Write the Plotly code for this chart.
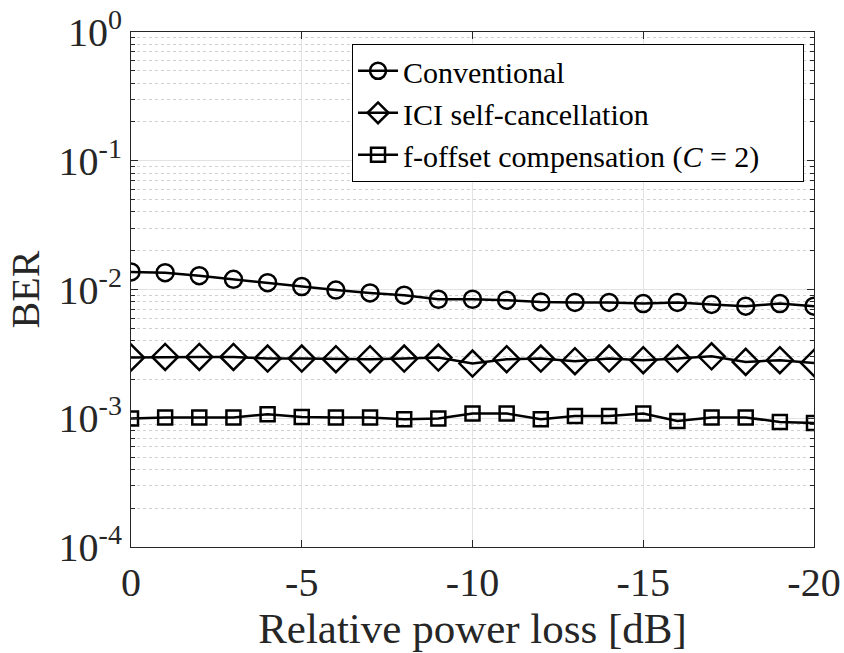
import plotly.graph_objects as go

loss_db = list(range(0, -21, -1))

ber_conventional = [1.37e-2, 1.35e-2, 1.28e-2, 1.20e-2, 1.13e-2, 1.055e-2, 0.99e-2, 0.94e-2,
                    0.903e-2, 0.84e-2, 0.84e-2, 0.826e-2, 0.80e-2, 0.793e-2, 0.793e-2,
                    0.778e-2, 0.793e-2, 0.765e-2, 0.742e-2, 0.778e-2, 0.742e-2]
ber_ici = [2.96e-3, 2.995e-3, 2.995e-3, 2.995e-3, 2.91e-3, 2.91e-3, 2.875e-3, 2.875e-3,
           2.91e-3, 2.96e-3, 2.66e-3, 2.875e-3, 2.91e-3, 2.775e-3, 2.91e-3, 2.825e-3,
           2.91e-3, 3.03e-3, 2.74e-3, 2.825e-3, 2.69e-3]
ber_foffset = [0.995e-3, 1.013e-3, 1.013e-3, 1.013e-3, 1.075e-3, 1.024e-3, 1.013e-3, 1.013e-3,
               0.983e-3, 0.995e-3, 1.089e-3, 1.089e-3, 0.983e-3, 1.043e-3, 1.043e-3, 1.089e-3,
               0.954e-3, 1.013e-3, 1.013e-3, 0.937e-3, 0.92e-3]

series_names = ["Conventional", "ICI self-cancellation", "f-offset compensation (<i>C</i> = 2)"]
x_ticks = [0, -5, -10, -15, -20]
x_ticktext = ["0", "-5", "-10", "-15", "-20"]
y_ticks = [1e-4, 1e-3, 1e-2, 1e-1, 1e0]
y_ticktext = ["10<sup>-4</sup>", "10<sup>-3</sup>", "10<sup>-2</sup>", "10<sup>-1</sup>", "10<sup>0</sup>"]

FONT = "Liberation Serif"
AX = "#262626"

fig = go.Figure()
styles = [("circle-open", 17), ("diamond-open", 20), ("square-open", 14)]
for name, ys, (sym, sz) in zip(series_names, [ber_conventional, ber_ici, ber_foffset], styles):
    fig.add_trace(go.Scatter(
        x=loss_db, y=ys, name=name, mode="lines+markers",
        line=dict(color="black", width=2.5),
        marker=dict(symbol=sym, size=sz, color="black", line=dict(color="black", width=2.5)),
    ))

minor_vals = [m * 10.0 ** e for e in range(-4, 0) for m in range(2, 10)]

fig.update_layout(
    width=844, height=653,
    margin=dict(l=131, r=30, t=32, b=106, autoexpand=False),
    paper_bgcolor="white", plot_bgcolor="white",
    font=dict(family=FONT, color=AX, size=30),
    showlegend=True,
    legend=dict(
        orientation="h", entrywidth=395, entrywidthmode="pixels",
        x=0.3236, y=0.977, xanchor="left", yanchor="top",
        bgcolor="white", bordercolor="black", borderwidth=1,
        font=dict(family=FONT, size=30, color="black"),
        tracegroupgap=0, itemwidth=40,
    ),
    xaxis=dict(
        range=[0, -20], autorange=False, automargin=False,
        tickmode="array", tickvals=x_ticks, ticktext=x_ticktext,
        ticks="inside", ticklen=7, tickcolor=AX, tickwidth=1,
        showline=True, linecolor=AX, linewidth=1.2, mirror="ticks",
        showgrid=True, gridcolor="#e3e3e3", gridwidth=1,
        zeroline=False,
        tickfont=dict(family=FONT, size=40, color=AX),
        title=dict(text="Relative power loss [dB]", font=dict(family=FONT, size=43, color=AX), standoff=0),
    ),
    yaxis=dict(
        type="log", range=[-4, 0], autorange=False, automargin=False,
        tickmode="array", tickvals=y_ticks, ticktext=y_ticktext,
        ticks="inside", ticklen=7, tickcolor=AX, tickwidth=1,
        showline=True, linecolor=AX, linewidth=1.2, mirror="ticks",
        showgrid=True, gridcolor="#e3e3e3", gridwidth=1,
        zeroline=False,
        tickfont=dict(family=FONT, size=40, color=AX),
        title=dict(text="BER", font=dict(family=FONT, size=40, color=AX), standoff=6),
        minor=dict(tickmode="array", tickvals=minor_vals, ticks="inside", ticklen=4,
                   tickcolor=AX, showgrid=True, gridcolor="#d0d0d0", griddash="dot", gridwidth=1),
    ),
)

fig.write_html("out.html")
